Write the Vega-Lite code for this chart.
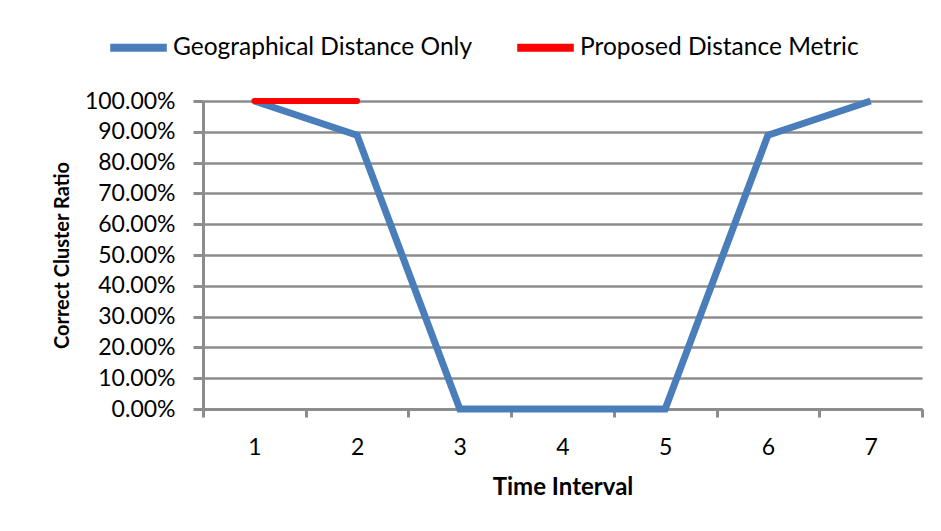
{
  "$schema": "https://vega.github.io/schema/vega-lite/v6.json",
  "width": 719,
  "height": 308,
  "autosize": {"type": "none"},
  "padding": {"left": 203, "top": 101, "right": 19, "bottom": 122},
  "background": "white",
  "data": {
    "values": [
      {"t": 1, "ratio": 1.0, "series": "Geographical Distance Only"},
      {"t": 2, "ratio": 0.889, "series": "Geographical Distance Only"},
      {"t": 3, "ratio": 0.0, "series": "Geographical Distance Only"},
      {"t": 4, "ratio": 0.0, "series": "Geographical Distance Only"},
      {"t": 5, "ratio": 0.0, "series": "Geographical Distance Only"},
      {"t": 6, "ratio": 0.889, "series": "Geographical Distance Only"},
      {"t": 7, "ratio": 1.0, "series": "Geographical Distance Only"},
      {"t": 1, "ratio": 1.0, "series": "Proposed Distance Metric"},
      {"t": 2, "ratio": 1.0, "series": "Proposed Distance Metric"}
    ]
  },
  "layer": [
    {
      "transform": [{"filter": "datum.series === 'Geographical Distance Only'"}],
      "mark": {"type": "line", "strokeWidth": 7, "strokeCap": "butt"},
      "encoding": {
        "x": {
          "field": "t", "type": "quantitative",
          "scale": {"domain": [0.5, 7.5], "nice": false, "zero": false},
          "axis": {
            "orient": "bottom",
            "values": [0.5, 1.5, 2.5, 3.5, 4.5, 5.5, 6.5, 7.5],
            "labels": false, "grid": false, "title": null,
            "tickSize": 8, "domain": true
          }
        },
        "y": {
          "field": "ratio", "type": "quantitative",
          "scale": {"domain": [0, 1], "nice": false},
          "axis": {
            "values": [0, 0.1, 0.2, 0.3, 0.4, 0.5, 0.6, 0.7, 0.8, 0.9, 1.0],
            "format": ".2%",
            "grid": true,
            "tickSize": 10,
            "labelPadding": 18,
            "labelOverlap": false,
            "labelFontSize": 23,
            "title": "Correct Cluster Ratio",
            "titleFontSize": 20,
            "titlePadding": 12
          }
        },
        "color": {
          "field": "series", "type": "nominal",
          "scale": {"domain": ["Geographical Distance Only", "Proposed Distance Metric"], "range": ["#4a7ebb", "#ff0000"]},
          "legend": {
            "title": null,
            "orient": "none",
            "direction": "horizontal",
            "legendX": -97,
            "legendY": -86,
            "symbolType": "stroke",
            "symbolSize": 3200,
            "symbolStrokeWidth": 8,
            "labelFont": "Lato",
            "labelFontSize": 24.5,
            "labelColor": "black",
            "labelLimit": 400,
            "labelOffset": 2,
            "columnPadding": 28
          }
        }
      }
    },
    {
      "transform": [{"filter": "datum.series === 'Proposed Distance Metric'"}],
      "mark": {"type": "line", "strokeWidth": 6, "strokeCap": "round"},
      "encoding": {
        "x": {
          "field": "t", "type": "quantitative",
          "scale": {"domain": [0.5, 7.5], "nice": false, "zero": false},
          "axis": {
            "orient": "bottom",
            "values": [1, 2, 3, 4, 5, 6, 7],
            "format": "d",
            "ticks": false, "tickSize": 0, "domain": false, "grid": false,
            "labelPadding": 27,
            "labelFontSize": 23,
            "title": "Time Interval",
            "titleFontSize": 24,
            "titlePadding": 16
          }
        },
        "y": {
          "field": "ratio", "type": "quantitative",
          "scale": {"domain": [0, 1], "nice": false},
          "axis": {
            "values": [0, 0.1, 0.2, 0.3, 0.4, 0.5, 0.6, 0.7, 0.8, 0.9, 1.0],
            "format": ".2%",
            "grid": true,
            "tickSize": 10,
            "labelPadding": 18,
            "labelOverlap": false,
            "labelFontSize": 23,
            "title": "Correct Cluster Ratio",
            "titleFontSize": 20,
            "titlePadding": 12
          }
        },
        "color": {"field": "series", "type": "nominal"}
      }
    }
  ],
  "resolve": {"axis": {"x": "independent"}},
  "config": {
    "view": {"stroke": null},
    "axis": {
      "labelFont": "Lato",
      "labelFontSize": 21,
      "labelColor": "black",
      "titleFont": "Lato",
      "titleFontSize": 20,
      "titleFontWeight": "bold",
      "titleColor": "black",
      "gridColor": "#8c8c8c",
      "gridWidth": 2.5,
      "gridOpacity": 1,
      "domainColor": "#8c8c8c",
      "domainWidth": 3,
      "tickColor": "#8c8c8c",
      "tickWidth": 3
    }
  }
}
